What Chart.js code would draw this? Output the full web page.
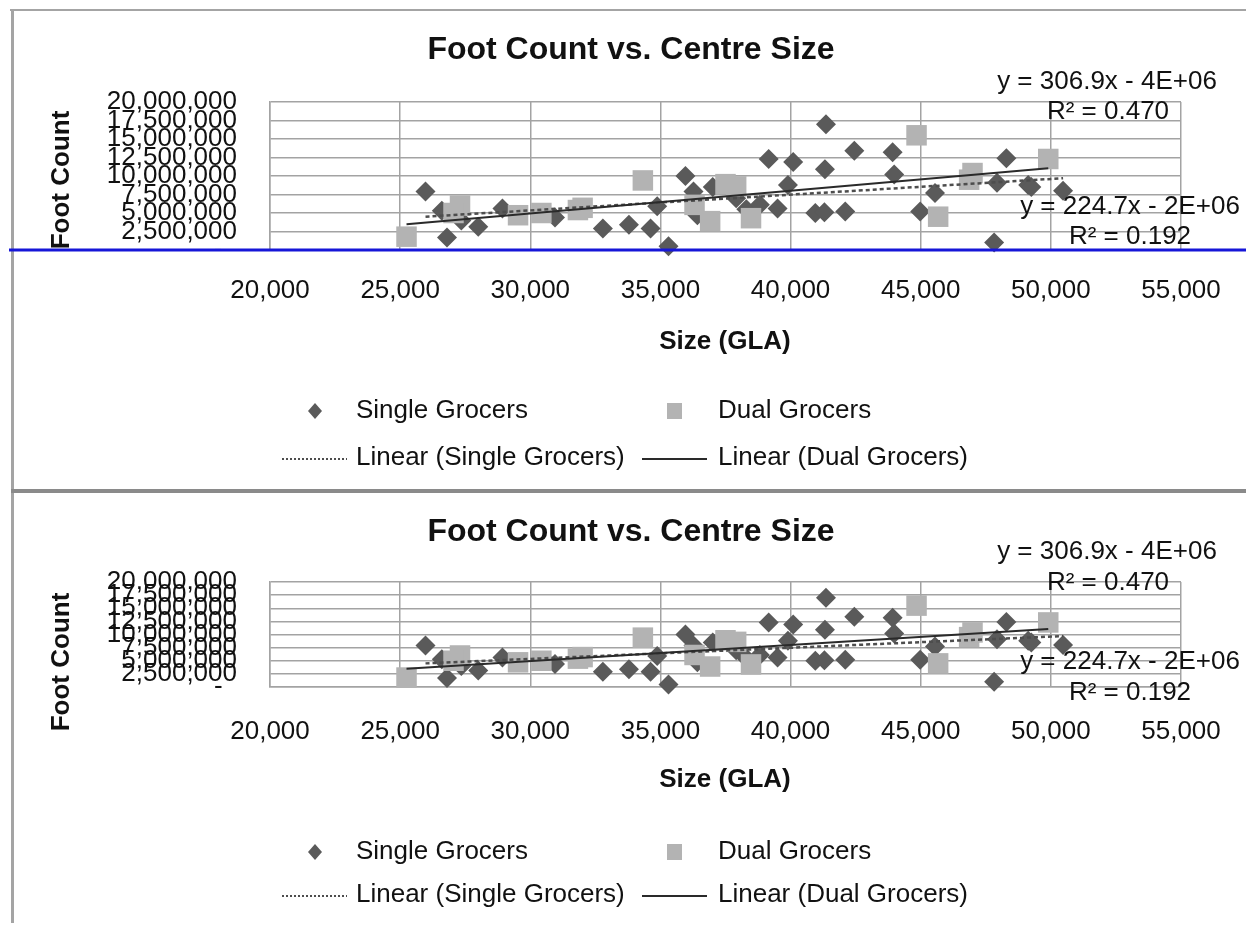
<!DOCTYPE html>
<html>
<head>
<meta charset="utf-8">
<script src="https://cdn.jsdelivr.net/npm/chart.js@4.4.0/dist/chart.umd.min.js"></script>
<style>
  body { margin:0; background:#fff; width:1246px; height:927px; position:relative; overflow:hidden; }
  .ln { position:absolute; background:#a4a4a4; }
  canvas { position:absolute; left:0; }
</style>
</head>
<body>
<div class="ln" style="left:10px;top:9px;width:1236px;height:2px"></div>
<div class="ln" style="left:11px;top:9px;width:3px;height:480px"></div>
<div class="ln" style="left:11px;top:489px;width:1235px;height:4px;background:#8a8a8a"></div>
<div class="ln" style="left:11px;top:493px;width:3px;height:430px"></div>
<canvas id="chart-top" width="1246" height="489" style="top:0"></canvas>
<canvas id="chart-bottom" width="1246" height="434" style="top:493px"></canvas>
<script>
// ── data ──
const singleX = [25975, 26800, 26600, 27350, 28000, 28930, 30950, 32790, 33790, 34620, 34875, 35310,
                 35960, 36270, 36420, 37010, 37910, 38300, 38820, 39160, 39500, 39900, 40100, 41360,
                 41320, 40950, 41300, 42100, 42450, 43920, 43980, 44980, 45550, 47820, 47930, 48290,
                 49130, 49250, 50470];
const singleY = [7900000, 1700000, 5300000, 4000000, 3150000, 5600000, 4400000, 2900000, 3400000, 2900000, 5900000, 500000,
                 10000000, 7900000, 4700000, 8500000, 7000000, 5500000, 6100000, 12300000, 5600000, 8800000, 11900000, 17000000,
                 10900000, 5000000, 5100000, 5200000, 13400000, 13200000, 10200000, 5200000, 7700000, 1000000, 9100000, 12400000,
                 8800000, 8500000, 8000000];
const dualX = [25245, 27300, 27050, 29530, 30425, 31830, 32010, 34325, 36310, 36910, 37500, 37910,
               38480, 44840, 45670, 46860, 46990, 49900];
const dualY = [1800000, 6000000, 5000000, 4700000, 5000000, 5400000, 5700000, 9400000, 6100000, 3900000, 8900000, 8600000,
               4300000, 15500000, 4500000, 9500000, 10400000, 12300000];
const trendSingleX = [25975, 50470];
const trendSingleY = [4500000, 9700000];
const trendDualX = [25245, 49900];
const trendDualY = [3470000, 11040000];

const xTicks = [20000, 25000, 30000, 35000, 40000, 45000, 50000, 55000];
const yTicks = [0, 2500000, 5000000, 7500000, 10000000, 12500000, 15000000, 17500000, 20000000];

const seriesNames = ['Single Grocers', 'Dual Grocers', 'Linear (Single Grocers)', 'Linear (Dual Grocers)'];
const chartTitle = 'Foot Count vs. Centre Size';
const xTitle = 'Size (GLA)';
const yTitle = 'Foot Count';
const eqDual = ['y = 306.9x - 4E+06', 'R² = 0.470'];
const eqSingle = ['y = 224.7x - 2E+06', 'R² = 0.192'];

const FONT = "'Liberation Sans', Arial, sans-serif";
const pts = (xs, ys) => xs.map((x, i) => ({ x, y: ys[i] }));

// titles, equations and the legend, drawn on top of the plot
const extras = {
  id: 'extras',
  afterDraw(chart, args, o) {
    const c = chart.ctx;
    const ds = chart.data.datasets;
    c.save();
    c.fillStyle = '#111';
    c.textBaseline = 'middle';
    c.textAlign = 'center';

    c.font = `bold 32px ${FONT}`;
    c.fillText(chartTitle, o.titleX, o.titleY);

    c.font = `26px ${FONT}`;
    c.fillText(eqDual[0], 1107, o.eq1Y);
    c.fillText(eqDual[1], 1108, o.r1Y);
    c.fillText(eqSingle[0], 1130, o.eq2Y);
    c.fillText(eqSingle[1], 1130, o.r2Y);

    c.font = `bold 26px ${FONT}`;
    c.fillText(xTitle, 725, o.xTitleY);
    c.save();
    c.translate(62, o.yTitleY);
    c.rotate(-Math.PI / 2);
    c.fillText(yTitle, 0, 0);
    c.restore();

    // legend
    c.font = `26px ${FONT}`;
    c.textAlign = 'left';
    c.fillText(ds[0].label, 356, o.leg1Y);
    c.fillText(ds[1].label, 718, o.leg1Y);
    c.fillText(ds[2].label, 356, o.leg2Y);
    c.fillText(ds[3].label, 718, o.leg2Y);

    c.fillStyle = ds[0].backgroundColor;
    c.beginPath();
    c.moveTo(315 - 7, o.leg1Y); c.lineTo(315, o.leg1Y - 8);
    c.lineTo(315 + 7, o.leg1Y); c.lineTo(315, o.leg1Y + 8);
    c.closePath(); c.fill();
    c.fillStyle = ds[1].backgroundColor;
    c.fillRect(667, o.leg1Y - 8, 15, 16);

    c.lineWidth = 2;
    c.strokeStyle = ds[2].borderColor;
    c.setLineDash([2, 2]);
    c.beginPath(); c.moveTo(282, o.leg2Y + 1); c.lineTo(347, o.leg2Y + 1); c.stroke();
    c.setLineDash([]);
    c.strokeStyle = ds[3].borderColor;
    c.beginPath(); c.moveTo(642, o.leg2Y + 1); c.lineTo(707, o.leg2Y + 1); c.stroke();

    if (o.blue) {
      c.strokeStyle = '#1616d8';
      c.lineWidth = 3;
      c.beginPath(); c.moveTo(9, chart.chartArea.bottom); c.lineTo(1246, chart.chartArea.bottom); c.stroke();
    }
    c.restore();
  }
};

function makeChart(id, L) {
  const gridCol = '#a3a3a3';
  return new Chart(document.getElementById(id), {
    type: 'scatter',
    data: {
      datasets: [
        { label: seriesNames[0], data: pts(singleX, singleY), pointStyle: 'rectRot', pointRadius: 10,
          backgroundColor: '#5a5a5a', borderColor: '#5a5a5a', borderWidth: 0, order: 3, clip: false },
        { label: seriesNames[1], data: pts(dualX, dualY), pointStyle: 'rect', pointRadius: 14.5,
          backgroundColor: '#b3b3b3', borderColor: '#b3b3b3', borderWidth: 0, order: 2, clip: false },
        { label: seriesNames[2], data: pts(trendSingleX, trendSingleY), showLine: true, pointRadius: 0,
          borderColor: '#4d4d4d', borderWidth: 2.5, borderDash: [4, 3], order: 1 },
        { label: seriesNames[3], data: pts(trendDualX, trendDualY), showLine: true, pointRadius: 0,
          borderColor: '#2a2a2a', borderWidth: 2, order: 0 }
      ]
    },
    options: {
      responsive: false,
      animation: false,
      events: [],
      layout: { padding: { top: L.padTop, right: 65, left: 0, bottom: 0 } },
      plugins: { legend: { display: false }, tooltip: { enabled: false }, title: { display: false }, extras: L },
      scales: {
        x: {
          type: 'linear', min: xTicks[0], max: xTicks[xTicks.length - 1],
          afterBuildTicks: s => { s.ticks = xTicks.map(v => ({ value: v })); },
          afterFit: s => { s.height = L.xAxisH; },
          grid: { color: gridCol, lineWidth: 1.5, drawTicks: false },
          border: { color: gridCol, width: 1.5 },
          ticks: { padding: 25, color: '#111', autoSkip: false, maxRotation: 0,
                   font: { family: FONT, size: 26, lineHeight: L.xLine }, callback: v => v.toLocaleString('en-US') }
        },
        y: {
          type: 'linear', min: yTicks[0], max: yTicks[yTicks.length - 1],
          afterBuildTicks: s => { s.ticks = yTicks.map(v => ({ value: v })); },
          afterFit: s => { s.width = 270; },
          grid: { color: gridCol, lineWidth: 1.5, drawTicks: false },
          border: { color: gridCol, width: 1.5 },
          ticks: { padding: 33, color: '#111', autoSkip: false,
                   font: { family: FONT, size: 26 }, callback: v => v === 0 ? '-  ' : v.toLocaleString('en-US') }
        }
      }
    },
    plugins: [extras]
  });
}

makeChart('chart-top', {
  padTop: 102, xAxisH: 239, xLine: 1.2, blue: true,
  titleX: 631, titleY: 50, eq1Y: 82, r1Y: 112, eq2Y: 207, r2Y: 237,
  xTitleY: 342, yTitleY: 180, leg1Y: 411, leg2Y: 458
});
makeChart('chart-bottom', {
  padTop: 89, xAxisH: 240, xLine: 1.5, blue: false,
  titleX: 631, titleY: 39, eq1Y: 59, r1Y: 90, eq2Y: 169, r2Y: 200,
  xTitleY: 287, yTitleY: 169, leg1Y: 359, leg2Y: 402
});
</script>
</body>
</html>
